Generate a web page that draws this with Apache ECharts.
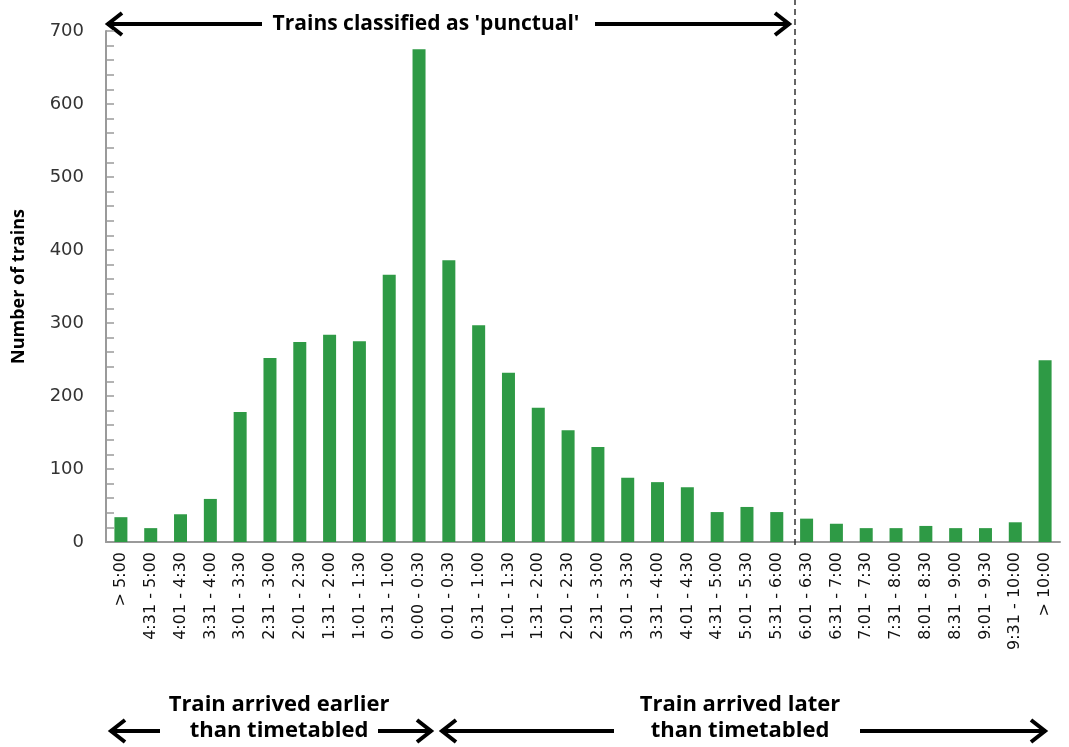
<!DOCTYPE html>
<html>
<head>
<meta charset="utf-8">
<script src="https://cdn.jsdelivr.net/npm/echarts@6/dist/echarts.min.js"></script>
<style>
html,body{margin:0;padding:0;background:#fff;}
#chart{width:1069px;height:747px;}
</style>
</head>
<body>
<div id="chart"></div>
<script>
const categories = ['> 5:00','4:31 - 5:00','4:01 - 4:30','3:31 - 4:00','3:01 - 3:30','2:31 - 3:00','2:01 - 2:30','1:31 - 2:00','1:01 - 1:30','0:31 - 1:00','0:00 - 0:30','0:01 - 0:30','0:31 - 1:00','1:01 - 1:30','1:31 - 2:00','2:01 - 2:30','2:31 - 3:00','3:01 - 3:30','3:31 - 4:00','4:01 - 4:30','4:31 - 5:00','5:01 - 5:30','5:31 - 6:00','6:01 - 6:30','6:31 - 7:00','7:01 - 7:30','7:31 - 8:00','8:01 - 8:30','8:31 - 9:00','9:01 - 9:30','9:31 - 10:00','> 10:00'];
const trainCounts = [34,19,38,59,178,252,274,284,275,366,675,386,297,232,184,153,130,88,82,75,41,48,41,32,25,19,19,22,19,19,27,249];
const yTicks = {min:0, max:700, interval:100};
const punctualBoundary = 22.6;
const yTitle = 'Number of trains';
const topLabel = "Trains classified as 'punctual'";
const earlyLabel = 'Train arrived earlier\nthan timetabled';
const lateLabel = 'Train arrived later\nthan timetabled';

const chart = echarts.init(document.getElementById('chart'), null, {renderer:'canvas'});

function arrow(x1, x2, y, dir) {
  const tip = dir === 'left' ? x1 : x2;
  const s = dir === 'left' ? 1 : -1;
  return {
    type:'group',
    children:[
      {type:'line', shape:{x1:x1, y1:y, x2:x2, y2:y}, style:{stroke:'#000', lineWidth:4}},
      {type:'polyline', shape:{points:[[tip + s*15, y-11],[tip+s*1, y],[tip + s*15, y+11]]}, style:{stroke:'#000', lineWidth:4, fill:null, lineJoin:'miter'}}
    ]
  };
}

const topFont = 'bold 21px "Open Sans", sans-serif';
const botFont = 'bold 22px "Open Sans", sans-serif';

chart.setOption({
  animation:false,
  grid:[
    {left:106, right:9, top:31, bottom:205, containLabel:false},
    {left:106, right:9, top:0, bottom:202, containLabel:false}
  ],
  xAxis:[{
    type:'category', gridIndex:0,
    data:categories,
    axisLine:{lineStyle:{color:'#9a9a9a', width:2}},
    axisTick:{show:false},
    axisLabel:{rotate:90, interval:0, margin:10, color:'#111', fontFamily:'DejaVu Sans', fontSize:16}
  },{
    type:'value', gridIndex:1, min:-0.5, max:categories.length - 0.5, show:false
  }],
  yAxis:[{
    type:'value', gridIndex:0, min:yTicks.min, max:yTicks.max, interval:yTicks.interval,
    name:yTitle, nameLocation:'middle', nameGap:78,
    nameTextStyle:{fontWeight:'bold', fontSize:18, color:'#000', fontFamily:'"Open Sans", sans-serif'},
    axisLine:{show:true, onZero:false, lineStyle:{color:'#9a9a9a', width:2}},
    axisTick:{show:true, inside:true, length:8, lineStyle:{color:'#9a9a9a', width:1.5}},
    minorTick:{show:true, splitNumber:5, length:8, lineStyle:{color:'#9a9a9a', width:1.5}},
    splitLine:{show:false},
    axisLabel:{margin:22, color:'#333', fontFamily:'DejaVu Sans', fontSize:18}
  },{
    type:'value', gridIndex:1, min:0, max:1, show:false
  }],
  series:[{
    type:'bar', xAxisIndex:0, yAxisIndex:0, data:trainCounts, barWidth:13,
    itemStyle:{color:'#2e9a45'}
  },{
    type:'line', xAxisIndex:1, yAxisIndex:1, data:[], silent:true,
    showSymbol:false, lineStyle:{opacity:0},
    markLine:{
      symbol:'none', silent:true, label:{show:false},
      lineStyle:{color:'#333', type:[6,4], width:1.5},
      data:[{xAxis:punctualBoundary}]
    }
  }],
  graphic:[
    arrow(107, 262, 24, 'left'),
    {type:'text', x:426, y:24, style:{text:topLabel, font:topFont, fill:'#000', align:'center', verticalAlign:'middle'}},
    arrow(595, 790, 24, 'right'),
    {type:'text', x:279, y:718, style:{text:earlyLabel, font:botFont, fill:'#000', align:'center', verticalAlign:'middle', lineHeight:26}},
    arrow(110, 160, 731, 'left'),
    arrow(378, 432, 731, 'right'),
    arrow(441, 614, 731, 'left'),
    {type:'text', x:740, y:718, style:{text:lateLabel, font:botFont, fill:'#000', align:'center', verticalAlign:'middle', lineHeight:26}},
    arrow(860, 1046, 731, 'right')
  ]
});
</script>
</body>
</html>
